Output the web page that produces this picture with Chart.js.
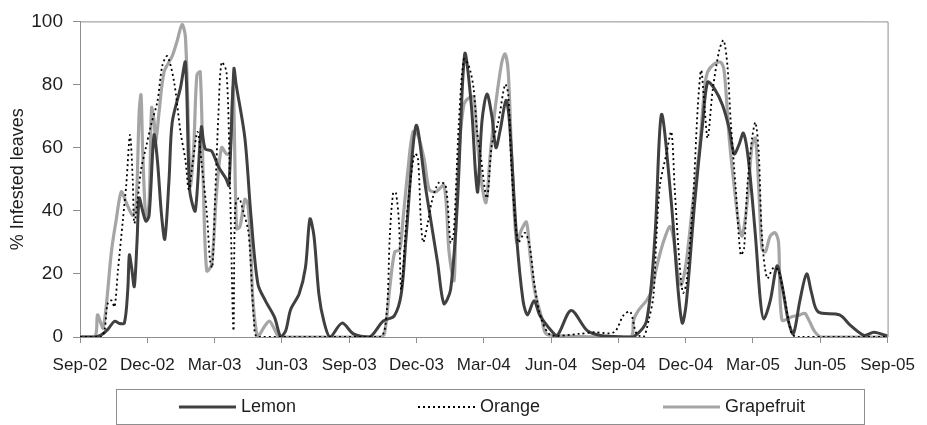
<!DOCTYPE html>
<html>
<head>
<meta charset="utf-8">
<script src="https://cdn.jsdelivr.net/npm/chart.js@4.4.1/dist/chart.umd.min.js"></script>
<style>
  html, body { margin: 0; padding: 0; background: #fff; }
  #wrap { width: 927px; height: 425px; position: relative; }
</style>
</head>
<body>
<div id="wrap"><canvas id="c"></canvas></div>
<script>
// x = months since Sep-02, y = % infested leaves
const tickLabels = ['Sep-02','Dec-02','Mar-03','Jun-03','Sep-03','Dec-03','Mar-04','Jun-04','Sep-04','Dec-04','Mar-05','Jun-05','Sep-05'];
const seriesNames = ['Lemon', 'Orange', 'Grapefruit'];

const lemon = [[0,0],[0.66,0],[0.96,0.7],[1.25,2.5],[1.54,5],[1.76,4.3],[1.98,4.5],[2.13,15],[2.20,26],[2.30,22],[2.42,16],[2.54,30],[2.64,44],[2.79,40],[2.94,36.7],[3.08,38.5],[3.30,64],[3.45,56],[3.63,39],[3.78,31],[3.97,50],[4.11,68],[4.48,79],[4.70,87],[4.89,46.6],[5.14,40],[5.41,66.5],[5.58,59.6],[5.86,59],[6.17,54],[6.52,50],[6.64,48],[6.86,85],[6.96,80],[7.35,63],[7.62,38.5],[7.93,16.8],[8.28,11.3],[8.67,6.3],[8.95,0],[9.17,2],[9.39,8.7],[9.77,13.7],[10.05,22],[10.25,37.4],[10.43,32],[10.65,13.5],[10.87,5],[11.15,0],[11.68,4.4],[12.19,1],[12.91,0],[13.51,5],[14.01,6.7],[14.32,13.7],[14.54,32],[14.98,67],[15.42,46.6],[15.94,23.6],[16.22,10.6],[16.52,15],[16.82,42],[17.15,89.7],[17.45,73],[17.63,52],[17.73,46],[17.92,68.5],[18.14,77],[18.36,70],[18.54,60],[18.73,65.5],[18.99,75],[19.14,68.5],[19.46,32],[19.75,11.5],[19.95,7],[20.24,11.5],[20.49,7],[21.01,2],[21.28,0.5],[21.89,8.4],[22.61,2],[23.21,0.5],[24.37,0],[24.68,0],[25.25,5],[25.63,32],[25.92,70.5],[26.36,42.6],[26.66,15],[26.85,4.4],[27.03,11],[27.40,42.6],[27.76,68],[27.98,80.8],[28.28,78.7],[28.64,73.5],[28.94,66],[29.16,58],[29.38,61],[29.57,64.6],[29.79,56.5],[30.11,32],[30.33,11.5],[30.48,5.7],[30.77,11.5],[31.07,22.5],[31.29,16.5],[31.58,5],[31.80,1],[32.09,11.5],[32.39,20],[32.61,14],[32.90,8],[33.86,7],[34.37,3.5],[34.96,0.5],[35.39,1.5],[36,0.3]];

const orange = [[0,0],[0.97,0],[1.23,10.5],[1.40,11.6],[1.54,9.5],[1.69,21],[1.91,37],[2.06,48],[2.23,64],[2.35,50],[2.42,36],[2.57,43.6],[2.72,53],[2.94,60],[3.16,67],[3.45,74.6],[3.67,86],[3.89,89],[4.19,81],[4.48,65],[4.70,56],[4.85,46.7],[5.02,55],[5.24,65],[5.42,55],[5.65,39.5],[5.80,24],[5.90,22],[6.02,43.6],[6.17,70.5],[6.31,87],[6.53,84],[6.68,50],[6.84,2],[6.92,41.6],[7.09,44],[7.27,40],[7.49,34],[7.58,27],[7.76,5],[7.93,0],[13.35,0],[13.66,7],[13.81,32],[13.96,45.7],[14.08,45.7],[14.22,36],[14.32,15],[14.54,36],[14.69,46.6],[14.91,58],[15.06,57],[15.20,36],[15.30,30],[15.50,36],[15.72,44],[16.01,49],[16.30,48],[16.52,30],[16.66,33],[16.89,68],[17.11,88],[17.33,86],[17.55,78.6],[17.70,65],[17.85,58],[18.14,44],[18.36,61],[18.64,68],[18.95,80],[19.09,77],[19.24,53],[19.53,30],[19.83,33],[20.05,28.6],[20.27,16],[20.57,5.6],[21.01,0.5],[22.25,1],[22.91,1.5],[23.80,1.5],[24.24,7],[24.53,8],[24.81,1],[25.12,0],[25.34,5],[25.56,13],[25.70,32],[25.85,48],[26.14,58],[26.36,65],[26.51,47],[26.73,23],[26.88,14],[27.03,17],[27.32,42.6],[27.54,73],[27.69,84.5],[27.84,73],[27.98,63],[28.20,78],[28.50,91],[28.69,94],[28.86,86],[29.01,68],[29.23,47],[29.45,26],[29.60,28],[29.74,47],[29.96,63],[30.11,68],[30.26,58],[30.40,32],[30.63,18.6],[30.92,22],[31.14,21],[31.43,11.5],[31.73,1],[32.02,0],[36,0]];

const grapefruit = [[0,0],[0.66,0],[0.78,7],[0.93,4.3],[1.03,2.8],[1.18,10.5],[1.40,27],[1.62,37.4],[1.84,46],[2.06,42.6],[2.35,38.5],[2.50,41.6],[2.64,71.6],[2.72,76.7],[2.79,60],[2.94,37.4],[3.08,42.6],[3.19,72.6],[3.30,68.5],[3.38,62],[3.53,71.6],[3.75,84],[4.11,89],[4.33,93.8],[4.55,99],[4.70,95],[4.85,62],[4.92,47.8],[5.07,60],[5.21,83],[5.36,84],[5.51,45],[5.65,21],[5.87,23],[6.08,45],[6.31,60],[6.53,58],[6.68,58],[6.83,79],[6.98,34.3],[7.13,35],[7.35,43.6],[7.48,42],[7.61,29],[7.71,11.5],[7.93,0],[8.23,3.4],[8.45,5],[8.67,2.5],[8.89,0],[13.35,0],[13.57,1],[13.81,15.7],[14.03,27],[14.25,27.6],[14.40,37.4],[14.62,53],[14.84,65],[15.06,64],[15.35,56],[15.57,46.7],[15.86,46],[16.23,48],[16.45,27],[16.67,17.8],[16.74,32],[16.89,58],[17.11,73.6],[17.33,75.7],[17.55,76],[17.70,63],[17.92,48],[18.10,42.6],[18.29,58],[18.51,72.6],[18.80,87],[18.95,89.7],[19.09,84],[19.24,58],[19.46,30],[19.68,34],[19.90,36.4],[20.05,27],[20.27,14.7],[20.57,6.4],[20.86,0.7],[24.53,0],[24.68,5.4],[24.90,8.5],[25.26,11.6],[25.48,14.7],[25.70,22],[26.00,30],[26.29,35],[26.44,32],[26.66,19.6],[26.80,16.5],[27.03,24],[27.32,42.6],[27.62,60],[27.84,78.8],[27.98,84],[28.28,86.6],[28.57,87],[28.72,84],[28.94,63],[29.16,47.8],[29.38,35],[29.52,32],[29.74,42.6],[29.96,61],[30.11,63],[30.26,46.7],[30.40,28],[30.55,27],[30.77,32],[30.99,33],[31.14,30],[31.29,5.4],[31.73,6.4],[32.09,7],[32.31,7.5],[32.53,4.8],[32.75,1.7],[33.05,0],[36,0]];

const FONT = '"Liberation Sans", Arial, sans-serif';
const AXIS_GREY = '#8e8e8e';
const TEXT = '#1e1e1e';

const toPoints = arr => arr.map(p => ({ x: p[0], y: p[1] }));

// frame on top/right of the plot area
const framePlugin = {
  id: 'frame',
  beforeDatasetsDraw(chart) {
    const { ctx, chartArea: a } = chart;
    ctx.save();
    ctx.strokeStyle = AXIS_GREY;
    ctx.lineWidth = 1;
    ctx.beginPath();
    ctx.moveTo(a.left, a.top + 0.5);
    ctx.lineTo(a.right + 0.5, a.top + 0.5);
    ctx.lineTo(a.right + 0.5, a.bottom);
    ctx.stroke();
    ctx.restore();
  }
};

// boxed legend below the chart
const boxLegend = {
  id: 'boxLegend',
  afterDraw(chart) {
    const { ctx } = chart;
    const box = { l: 116, t: 389, r: 864, b: 424 };
    const starts = [179, 418, 663];
    const lineLen = 57;
    const cy = 407;
    ctx.save();
    ctx.strokeStyle = AXIS_GREY;
    ctx.lineWidth = 1;
    ctx.strokeRect(box.l + 0.5, box.t + 0.5, box.r - box.l, box.b - box.t);
    chart.data.datasets.forEach((ds, i) => {
      ctx.save();
      ctx.strokeStyle = ds.borderColor;
      ctx.lineWidth = ds.borderWidth;
      ctx.setLineDash(ds.borderDash || []);
      ctx.beginPath();
      ctx.moveTo(starts[i], cy);
      ctx.lineTo(starts[i] + lineLen, cy);
      ctx.stroke();
      ctx.restore();
      ctx.fillStyle = TEXT;
      ctx.font = '18px ' + FONT;
      ctx.textBaseline = 'middle';
      ctx.textAlign = 'left';
      ctx.fillText(ds.label, starts[i] + lineLen + 5, cy);
    });
    ctx.restore();
  }
};

new Chart(document.getElementById('c'), {
  type: 'line',
  data: {
    datasets: [
      { label: seriesNames[0], data: toPoints(lemon), borderColor: '#404040', borderWidth: 3, order: 2 },
      { label: seriesNames[1], data: toPoints(orange), borderColor: '#000000', borderWidth: 1.8, borderDash: [2, 3], order: 1 },
      { label: seriesNames[2], data: toPoints(grapefruit), borderColor: '#a5a5a5', borderWidth: 3.2, order: 3 }
    ]
  },
  options: {
    responsive: true,
    maintainAspectRatio: false,
    animation: false,
    elements: {
      point: { radius: 0, hoverRadius: 0 },
      line: { tension: 0.3, fill: false, borderJoinStyle: 'round' }
    },
    layout: { padding: { top: 15, right: 30, bottom: 48, left: 0 } },
    plugins: {
      legend: { display: false },
      tooltip: { enabled: false },
      title: { display: false }
    },
    scales: {
      x: {
        type: 'linear',
        min: 0,
        max: 36,
        afterFit(scale) { scale.height = 40; },
        ticks: {
          stepSize: 3,
          autoSkip: false,
          maxRotation: 0,
          padding: 12,
          color: TEXT,
          font: { family: FONT, size: 17 },
          callback: v => tickLabels[Math.round(v / 3)]
        },
        grid: { drawOnChartArea: false, drawTicks: true, tickLength: 6, color: AXIS_GREY },
        border: { color: AXIS_GREY }
      },
      y: {
        min: 0,
        max: 100,
        afterFit(scale) { scale.width = 80; },
        ticks: {
          stepSize: 20,
          padding: 10,
          color: TEXT,
          font: { family: FONT, size: 19 }
        },
        grid: { drawOnChartArea: false, drawTicks: true, tickLength: 7, color: AXIS_GREY },
        border: { color: AXIS_GREY },
        title: {
          display: true,
          text: '% Infested leaves',
          color: TEXT,
          font: { family: FONT, size: 18 },
          padding: { top: 7, bottom: 0 }
        }
      }
    }
  },
  plugins: [framePlugin, boxLegend]
});
</script>
</body>
</html>
